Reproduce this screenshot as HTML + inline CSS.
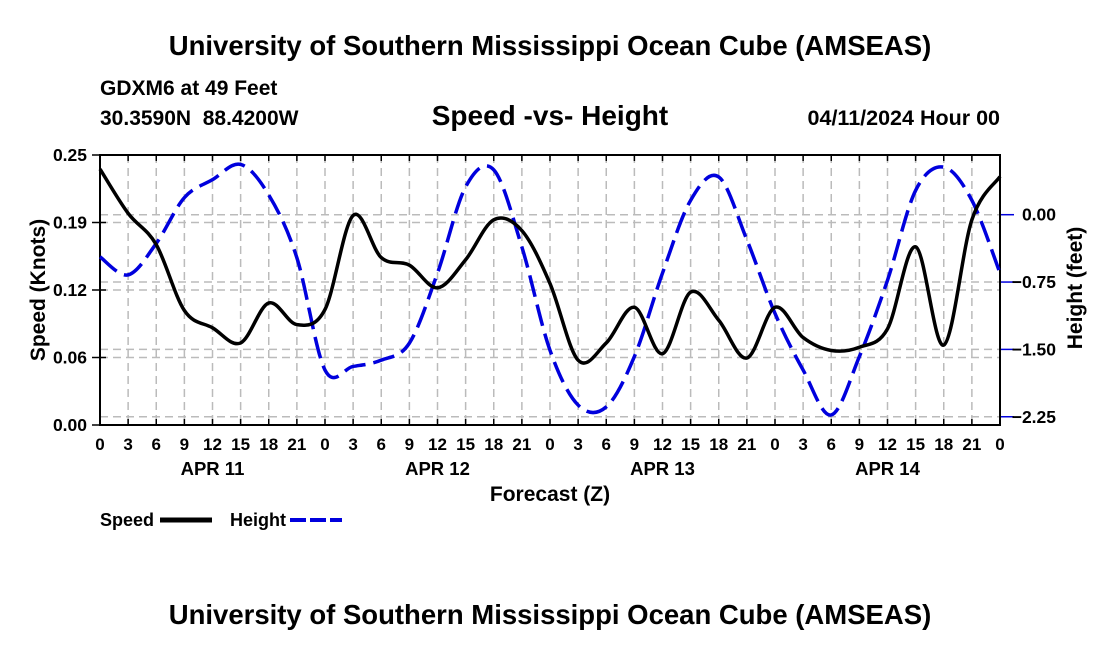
<!DOCTYPE html>
<html><head><meta charset="utf-8"><style>
body{margin:0;background:#fff}
svg text{font-family:"Liberation Sans",sans-serif;font-weight:bold;fill:#000}
</style></head><body>
<svg id="c" width="1100" height="650" xmlns="http://www.w3.org/2000/svg">
<text x="550" y="55" font-size="27.5" text-anchor="middle">University of Southern Mississippi Ocean Cube (AMSEAS)</text>
<text x="100" y="95" font-size="21">GDXM6 at 49 Feet</text>
<text x="100" y="125" font-size="21" xml:space="preserve">30.3590N  88.4200W</text>
<text x="550" y="125" font-size="28" text-anchor="middle" font-weight="normal">Speed -vs- Height</text>
<text x="1000" y="125" font-size="21.5" text-anchor="end">04/11/2024 Hour 00</text>
<text x="550" y="501" font-size="21" text-anchor="middle">Forecast (Z)</text>
<text transform="translate(45,290) rotate(-90)" font-size="21" text-anchor="middle">Speed (Knots)</text>
<text transform="translate(1082,288) rotate(-90)" font-size="21" text-anchor="middle">Height (feet)</text>
<g>
<text x="100" y="526" font-size="18">Speed</text>
<line x1="160" y1="520" x2="212" y2="520" stroke="#000" stroke-width="5"/>
<text x="230" y="526" font-size="18">Height</text>
<line x1="290" y1="520" x2="342" y2="520" stroke="#0000dd" stroke-width="4" stroke-dasharray="16,4"/>
</g>
<text x="550" y="624" font-size="27.5" text-anchor="middle">University of Southern Mississippi Ocean Cube (AMSEAS)</text>
<g id="plot"></g>
</svg>
<script>
const hours=[0,3,6,9,12,15,18,21,24,27,30,33,36,39,42,45,48,51,54,57,60,63,66,69,72,75,78,81,84,87,90,93,96];
const speed=[0.237,0.196,0.167,0.106,0.090,0.076,0.113,0.093,0.107,0.194,0.155,0.148,0.127,0.153,0.190,0.180,0.131,0.060,0.076,0.109,0.066,0.123,0.097,0.062,0.109,0.081,0.069,0.072,0.089,0.165,0.074,0.190,0.230];
const height=[-0.47,-0.67,-0.32,0.19,0.39,0.56,0.22,-0.48,-1.73,-1.69,-1.62,-1.43,-0.65,0.31,0.50,-0.36,-1.51,-2.12,-2.14,-1.58,-0.65,0.16,0.42,-0.28,-1.10,-1.73,-2.23,-1.58,-0.73,0.27,0.53,0.16,-0.65];
const xLabels=["0","3","6","9","12","15","18","21","0","3","6","9","12","15","18","21","0","3","6","9","12","15","18","21","0","3","6","9","12","15","18","21","0"];
const dayLabels=["APR 11","APR 12","APR 13","APR 14"];
const speedTicks=[0,0.0625,0.125,0.1875,0.25];
const speedTickLabels=["0.00","0.06","0.12","0.19","0.25"];
const heightTicks=[0,-0.75,-1.5,-2.25];
const heightTickLabels=["0.00","−0.75","−1.50","−2.25"];
const X0=100,X1=1000,YT=155,YB=425;
const xs=h=>X0+h*(X1-X0)/96;
const ys=v=>YB-v*(YB-YT)/0.25;
const yh=h=>214.7-h*89.8;
const NS="http://www.w3.org/2000/svg";
const g=document.getElementById('plot');
function mk(t,a){const e=document.createElementNS(NS,t);for(const k in a)e.setAttribute(k,a[k]);g.appendChild(e);return e;}
hours.forEach((h,i)=>{
 if(i>0&&i<hours.length-1){const l=mk('line',{x1:xs(h),x2:xs(h),y1:YT,y2:YB,stroke:'#bbb','stroke-width':1.5,'stroke-dasharray':'8,5'});
 
 }
 const tk=mk('line',{x1:xs(h),x2:xs(h),y1:YB,y2:YB-6,stroke:'#000','stroke-width':1.5});
 
 
 const tt=mk('line',{x1:xs(h),x2:xs(h),y1:YT,y2:YT+6,stroke:'#000','stroke-width':1.5});
 
 
 const t=mk('text',{x:xs(h),y:YB+25,'font-size':17,'text-anchor':'middle'});t.textContent=xLabels[i];
 
 
});
dayLabels.forEach((d,i)=>{const t=mk('text',{x:xs(12+i*24),y:YB+50,'font-size':18.5,'text-anchor':'middle'});t.textContent=d;
 
 });
speedTicks.forEach((v,i)=>{
 if(i>0&&i<speedTicks.length-1){const l=mk('line',{x1:X0,x2:X1,y1:ys(v),y2:ys(v),stroke:'#bbb','stroke-width':1.5,'stroke-dasharray':'8,5'});
 
 }
 const tk=mk('line',{x1:X0-8,x2:X0+6,y1:ys(v),y2:ys(v),stroke:'#000','stroke-width':1.5});
 
 
 const t=mk('text',{x:X0-13,y:ys(v)+6,'font-size':17.5,'text-anchor':'end'});t.textContent=speedTickLabels[i];
 
 
});
heightTicks.forEach((v,i)=>{
 const l=mk('line',{x1:X0,x2:X1,y1:yh(v),y2:yh(v),stroke:'#bbb','stroke-width':1.5,'stroke-dasharray':'8,5'});
 
 
 const tk=mk('line',{x1:X1,x2:X1+14,y1:yh(v),y2:yh(v),stroke:'#0000dd','stroke-width':1.5});
 
 
 const t=mk('text',{x:1056,y:yh(v)+6,'font-size':17.5,'text-anchor':'end'});t.textContent=heightTickLabels[i];
 
 
});
const fr=mk('rect',{x:X0,y:YT,width:X1-X0,height:YB-YT,fill:'none',stroke:'#000','stroke-width':2});


function smooth(vals,fy){
 const p=hours.map((h,i)=>[xs(h),fy(vals[i])]);
 let d='M'+p[0][0]+','+p[0][1];
 for(let i=0;i<p.length-1;i++){const a=p[Math.max(0,i-1)],b=p[i],c=p[i+1],e=p[Math.min(p.length-1,i+2)];
  d+=' C'+(b[0]+(c[0]-a[0])/6)+','+(b[1]+(c[1]-a[1])/6)+' '+(c[0]-(e[0]-b[0])/6)+','+(c[1]-(e[1]-b[1])/6)+' '+c[0]+','+c[1];}
 return d;}
const hp=mk('path',{d:smooth(height,yh),fill:'none',stroke:'#0000dd','stroke-width':3.5,'stroke-dasharray':'22,8'});


const sp=mk('path',{d:smooth(speed,ys),fill:'none',stroke:'#000','stroke-width':3.5});


</script>
</body></html>
